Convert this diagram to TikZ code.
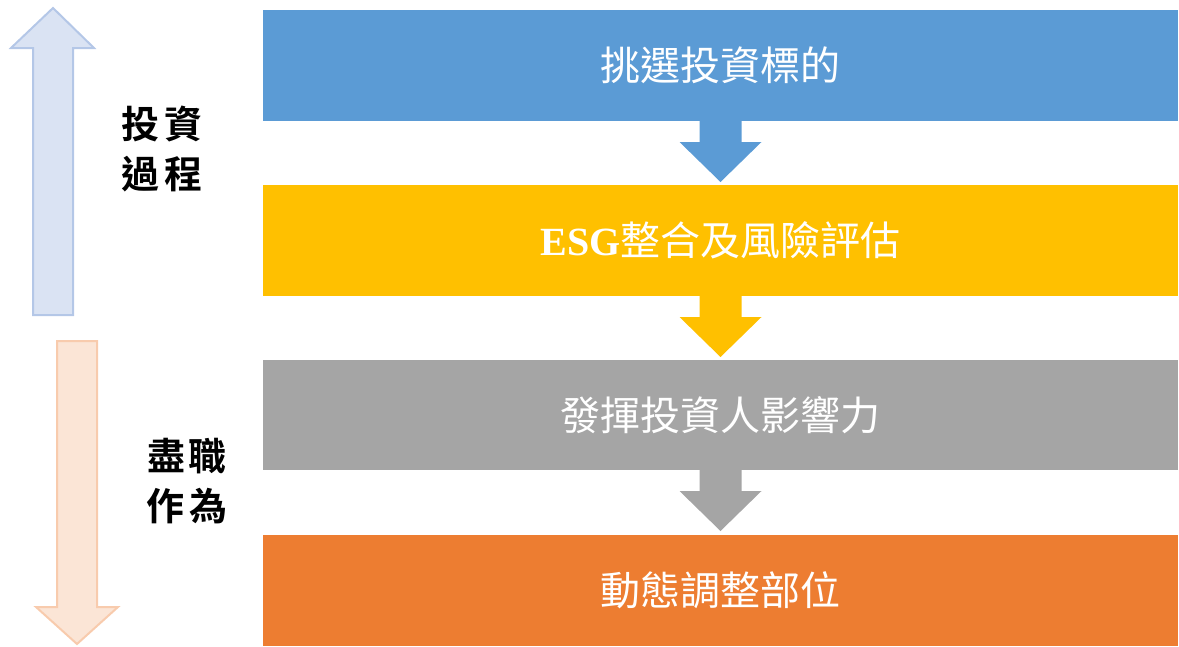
\documentclass[tikz,border=0pt]{standalone}
\usepackage{fontspec}
\newfontfamily\cjk{Noto Sans CJK TC}[BoldFont={Noto Sans CJK TC Bold}]
\newfontfamily\latinserif{Liberation Serif}
\usetikzlibrary{calc}
\definecolor{cblue}{HTML}{5B9BD5}
\definecolor{cgold}{HTML}{FFC000}
\definecolor{cgray}{HTML}{A5A5A5}
\definecolor{corange}{HTML}{ED7D31}
\definecolor{upfill}{HTML}{DAE3F3}
\definecolor{upline}{HTML}{B4C7E7}
\definecolor{dnfill}{HTML}{FBE5D6}
\definecolor{dnline}{HTML}{F8CBAD}
\tikzset{
  stepbox/.style={rectangle, anchor=north west, minimum width=915pt, inner sep=0pt, outer sep=0pt, text=white, font=\cjk\fontsize{40}{46}\selectfont},
  sidelabel/.style={align=center, text=black, font=\cjk\bfseries\fontsize{38}{50}\selectfont},
  bigarrow/.style={line width=2pt, line join=miter}
}
\begin{document}
\begin{tikzpicture}[x=1pt,y=-1pt]
\useasboundingbox (0,0) rectangle (1179,646);
% boxes
\node[stepbox, fill=cblue, minimum height=111pt] (b1) at (263,10) {挑選投資標的};
\node[stepbox, fill=cgold, minimum height=111pt] (b2) at (263,185) {{\latinserif\bfseries ESG}整合及風險評估};
\node[stepbox, fill=cgray, minimum height=110pt] (b3) at (263,360) {發揮投資人影響力};
\node[stepbox, fill=corange, minimum height=111pt] (b4) at (263,535) {動態調整部位};
% block arrows between boxes
\foreach \a/\b/\c in {b1/b2/cblue, b2/b3/cgold, b3/b4/cgray}{
  \fill[\c] ($(\a.south)+(-21,-1)$) -- ($(\a.south)+(21,-1)$) -- ($(\a.south)+(21,21)$)
    -- ($(\a.south)+(41,21)$) -- ($(\a.south)+(0,61)$) -- ($(\a.south)+(-41,21)$)
    -- ($(\a.south)+(-21,21)$) -- cycle;
}
% left up arrow
\draw[bigarrow, fill=upfill, draw=upline] (33,315) -- (73,315) -- (73,48) -- (94,48) -- (53,8) -- (11,48) -- (33,48) -- cycle;
% left down arrow
\draw[bigarrow, fill=dnfill, draw=dnline] (57,341) -- (97,341) -- (97,607) -- (118,607) -- (77,644) -- (36,607) -- (57,607) -- cycle;
% side labels
\node[sidelabel] (l1) at (162,149) {投\hspace{6pt}資\\過\hspace{6pt}程};
\node[sidelabel] (l2) at (187,481) {盡\hspace{3pt}職\\作\hspace{6pt}為};
\end{tikzpicture}
\end{document}
